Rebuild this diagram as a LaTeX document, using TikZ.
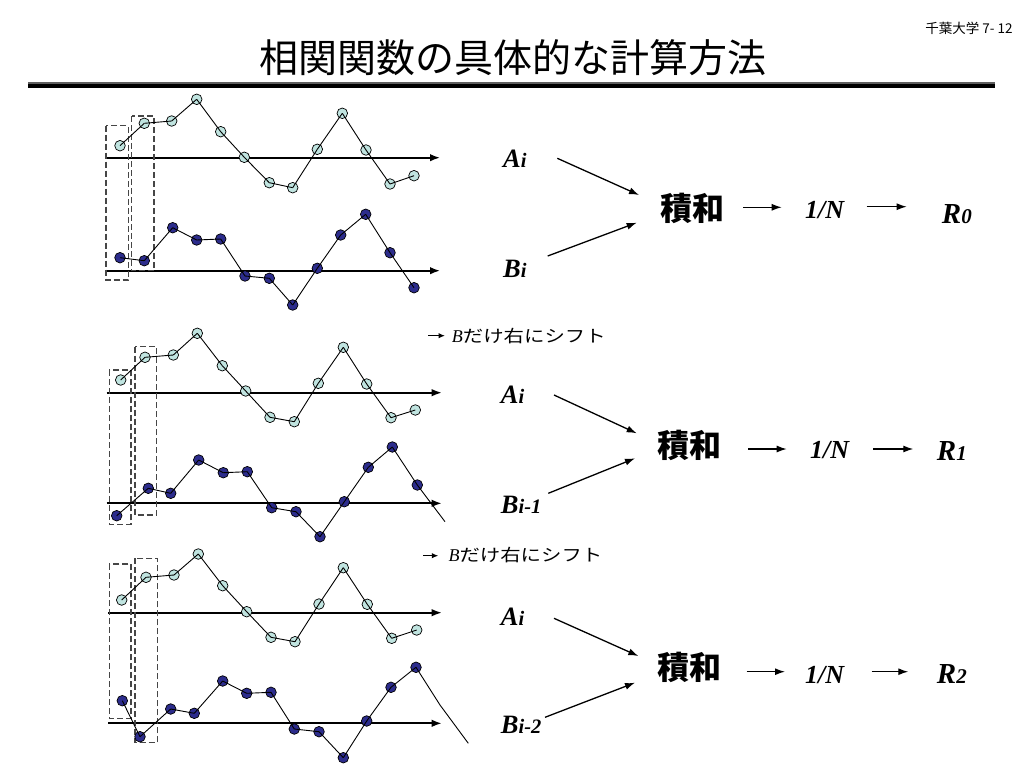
\documentclass[tikz,border=0pt]{standalone}
\usepackage{graphicx}
\usepackage{fontspec}
\setmainfont{Liberation Serif}
\newfontfamily\jp{Noto Sans CJK JP}
\usetikzlibrary{arrows.meta}
\definecolor{lightpt}{RGB}{192,228,224}
\definecolor{darkpt}{RGB}{44,44,140}
\definecolor{rulegray}{RGB}{95,95,95}
\definecolor{boxgray}{RGB}{70,70,70}
\newcommand{\fsz}[1]{\fontsize{#1}{#1}\selectfont}
\newcommand{\Lab}[2]{{\fsz{26.5}\bfseries\itshape #1}{\fsz{20.5}\bfseries\itshape #2}}
\newcommand{\Res}[2]{{\fsz{29}\bfseries\itshape #1}{\fsz{21}\bfseries\itshape #2}}
\newcommand{\Shift}{{\fsz{18}\itshape B}\scalebox{1.2}[1]{\jp\fsz{17}だけ右にシフト}}
\tikzset{
  lt/.style={circle, draw=black, line width=0.7pt, fill=lightpt, minimum size=10.6pt, inner sep=0pt},
  dk/.style={circle, draw=black, line width=0.7pt, fill=darkpt, minimum size=10.6pt, inner sep=0pt},
  ser/.style={line width=0.9pt, draw=black},
  axis/.style={line width=1.7pt, -{Latex[length=10pt,width=7.5pt]}},
  dbox/.style={draw=boxgray, dash pattern=on 6pt off 3pt, line width=1.2pt},
  arr/.style={line width=1.3pt, -{Latex[length=10pt,width=7pt]}},
  sarr/.style={line width=1.2pt, -{Latex[length=6.5pt,width=5.5pt]}},
  lbl/.style={inner sep=0pt, anchor=base west},
  sumt/.style={inner sep=0pt, anchor=center, font=\jp\bfseries\fsz{32}},
}
\newcommand{\series}[3]{%
  \foreach \p [count=\k] in {#3} {\node[#2] (#1-\k) at \p {};}%
  \foreach \k [remember=\k as \j (initially 1)] in {2,...,13} {\draw[ser] (#1-\j.center) -- (#1-\k.center);}%
}
\begin{document}
\begin{tikzpicture}[x=1pt,y=-1pt]
\fill[white] (0,0) rectangle (1024,768);
\useasboundingbox (0,0) rectangle (1024,768);

% header
\node[anchor=center, inner sep=0pt, font=\jp\fsz{13.5}] (page) at (969,28) {千葉大学 7- 12};
\node[anchor=center, inner sep=0pt, font=\jp\fsz{39}] (title) at (513,58) {相関関数の具体的な計算方法};
\coordinate (r1s) at (28,83.2); \coordinate (r1e) at (995,83.2);
\coordinate (r2s) at (28,86.4); \coordinate (r2e) at (995,86.4);
\draw[rulegray, line width=1.7pt] (r1s) -- (r1e);
\draw[black, line width=4pt] (r2s) -- (r2e);

% ---------- section 1 ----------
\coordinate (ax1s) at (106,157.7); \coordinate (ax1e) at (440,157.7);
\coordinate (bx1s) at (106,270.7); \coordinate (bx1e) at (440,270.7);
\draw[axis] (ax1s) -- (ax1e);
\draw[axis] (bx1s) -- (bx1e);
\draw[dbox] (106,125.7) rectangle (128.3,280);
\draw[dbox] (131.7,116) rectangle (154,270.7);
\series{a1}{lt}{(120,145.7),(144.3,123.3),(171.7,121),(196.7,99.3),(220.7,131.7),(244.3,157.3),(269.3,182.7),(292.7,187.7),(317.3,149.3),(342.3,113.3),(366,150),(390,184),(414,175.7)}
\series{b1}{dk}{(120,257.7),(144.3,260.7),(172.7,227.7),(196.7,240),(220.7,239),(245,276),(269.3,278.3),(292.7,305),(317.3,268.3),(340.7,235),(365.7,214.3),(390,252.7),(414,287.7)}

\node[lbl] (A1) at (503,167) {\Lab{A}{i}};
\node[lbl] (B1) at (503,277) {\Lab{B}{i}};
\node[sumt] (S1) at (692,208.5) {積和};
\node[lbl] (N1) at (805,218) {\fsz{26}\bfseries\itshape 1/N};
\node[lbl] (R1) at (941.7,223.3) {\Res{R}{0}};
\coordinate (p1a) at (557.3,158.3); \coordinate (p1b) at (639,195);
\coordinate (p1c) at (547.7,256); \coordinate (p1d) at (636.7,222.7);
\coordinate (p1e) at (743.3,207.3); \coordinate (p1f) at (781.7,207.3);
\coordinate (p1g) at (866.7,206.7); \coordinate (p1h) at (906.7,206.7);
\draw[arr] (p1a) -- (p1b);
\draw[arr] (p1c) -- (p1d);
\draw[arr] (p1e) -- (p1f);
\draw[arr] (p1g) -- (p1h);

% ---------- section 2 ----------
\coordinate (s2a) at (428.3,335.7); \coordinate (s2b) at (445,335.7);
\draw[sarr] (s2a) -- (s2b);
\node[lbl] (T2) at (451.7,342) {\Shift};

\coordinate (ax2s) at (106.7,392.7); \coordinate (ax2e) at (441.7,392.7);
\coordinate (bx2s) at (106.7,503.3); \coordinate (bx2e) at (441.7,503.3);
\draw[axis] (ax2s) -- (ax2e);
\draw[axis] (bx2s) -- (bx2e);
\draw[dbox] (109.3,370) rectangle (131,524.3);
\draw[dbox] (135,346.7) rectangle (156.7,515);
\series{a2}{lt}{(120.7,380),(145,357.3),(173.3,355),(197.3,333.3),(222.3,365.7),(245.7,391),(270,417.3),(294.3,421.7),(318.3,383.3),(343.3,347.3),(366.7,384),(391,417.7),(415.3,410)}
\series{b2}{dk}{(116.7,515.7),(148.3,488.3),(170.7,493.3),(198.7,460),(223.3,472.7),(247.3,471.7),(271.7,507.7),(296,511.7),(320,536.7),(344.3,501.7),(368.3,467.3),(392.3,447),(417.3,485)}
\coordinate (b2-end) at (445,521.7);
\draw[ser] (b2-13.center) -- (b2-end);

\node[lbl] (A2) at (500.7,403) {\Lab{A}{i}};
\node[lbl] (B2) at (500.7,513) {\Lab{B}{i-1}};
\node[sumt] (S2) at (689,445) {積和};
\node[lbl] (N2) at (810,458) {\fsz{26}\bfseries\itshape 1/N};
\node[lbl] (R2) at (936.7,460) {\Res{R}{1}};
\coordinate (p2a) at (554,395); \coordinate (p2b) at (636.7,433.3);
\coordinate (p2c) at (548.3,493.3); \coordinate (p2d) at (635,458.3);
\coordinate (p2e) at (748.3,449); \coordinate (p2f) at (786.7,449);
\coordinate (p2g) at (873.3,449); \coordinate (p2h) at (913.3,449);
\draw[arr] (p2a) -- (p2b);
\draw[arr] (p2c) -- (p2d);
\draw[arr] (p2e) -- (p2f);
\draw[arr] (p2g) -- (p2h);

% ---------- section 3 ----------
\coordinate (s3a) at (423.3,555.7); \coordinate (s3b) at (438.3,555.7);
\draw[sarr] (s3a) -- (s3b);
\node[lbl] (T3) at (448.3,561) {\Shift};

\coordinate (ax3s) at (108,612.7); \coordinate (ax3e) at (441.7,612.7);
\coordinate (bx3s) at (108,723.3); \coordinate (bx3e) at (441.7,723.3);
\draw[axis] (ax3s) -- (ax3e);
\draw[axis] (bx3s) -- (bx3e);
\draw[dbox] (109.3,564) rectangle (131,718.3);
\draw[dbox] (135,558.3) rectangle (157.3,742.7);
\series{a3}{lt}{(121.7,600),(146,577.3),(174,575),(198.3,554),(222.7,585.7),(246.7,611.7),(271,637.3),(295,641.7),(319,604),(343.3,567.7),(367.3,604.3),(391.7,638.3),(416.7,630)}
\series{b3}{dk}{(122.3,700.7),(140,736.7),(170.7,709),(194.3,713.3),(222.7,681),(246.7,693.3),(271,692.3),(294.3,729),(319,731.7),(343.3,757.7),(366.7,721),(391,687.3),(416,667.3)}
\coordinate (b3-x1) at (440,705); \coordinate (b3-x2) at (468.3,743.3);
\draw[ser] (b3-13.center) -- (b3-x1) -- (b3-x2);

\node[lbl] (A3) at (500.7,625) {\Lab{A}{i}};
\node[lbl] (B3) at (500.7,733) {\Lab{B}{i-2}};
\node[sumt] (S3) at (689,667.5) {積和};
\node[lbl] (N3) at (805,683) {\fsz{26}\bfseries\itshape 1/N};
\node[lbl] (R3) at (936.7,683) {\Res{R}{2}};
\coordinate (p3a) at (554,618.3); \coordinate (p3b) at (638.3,656);
\coordinate (p3c) at (545,717.3); \coordinate (p3d) at (635,682.7);
\coordinate (p3e) at (746.7,671.7); \coordinate (p3f) at (785,671.7);
\coordinate (p3g) at (871.7,671.7); \coordinate (p3h) at (908.3,671.7);
\draw[arr] (p3a) -- (p3b);
\draw[arr] (p3c) -- (p3d);
\draw[arr] (p3e) -- (p3f);
\draw[arr] (p3g) -- (p3h);
\end{tikzpicture}
\end{document}
